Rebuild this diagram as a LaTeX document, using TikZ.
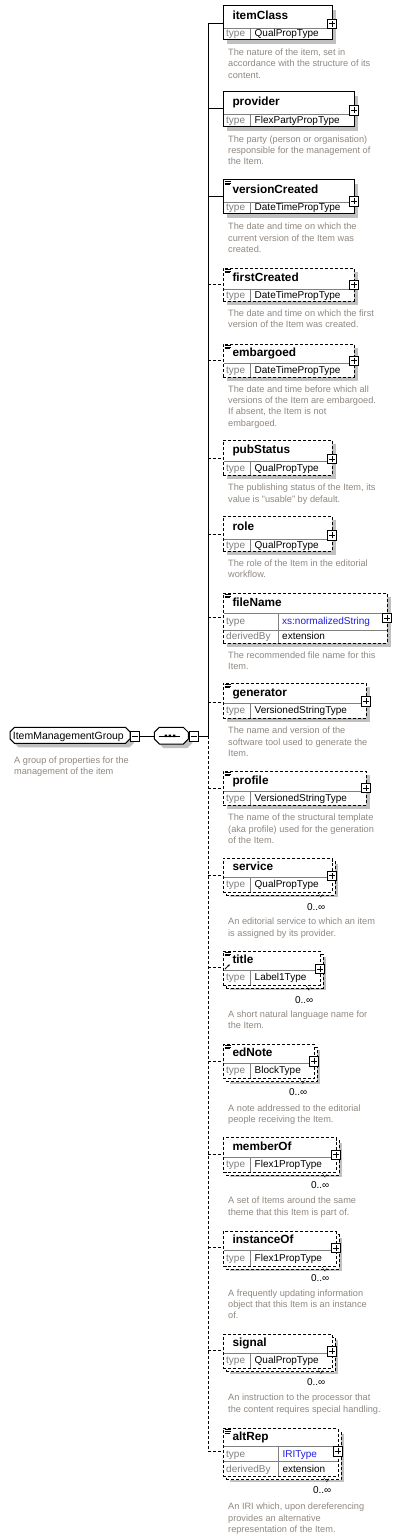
\documentclass[tikz,border=0pt]{standalone}
\usepackage{fontspec}
\setmainfont{Liberation Sans}
\usetikzlibrary{arrows.meta}
\definecolor{desccol}{RGB}{145,136,128}
\definecolor{shadowcol}{RGB}{192,192,192}
\definecolor{divcol}{RGB}{128,128,128}
\definecolor{labcol}{RGB}{128,128,128}
\definecolor{bluecol}{RGB}{30,30,230}
\tikzset{
  ebox/.style={draw, fill=white, line width=1pt, inner sep=0pt, outer sep=0pt, anchor=north west},
  eboxd/.style={ebox, dash pattern=on 3pt off 2pt},
  divline/.style={draw=divcol, line width=0.8pt},
  connline/.style={line width=1pt},
  connlined/.style={line width=1pt, dash pattern=on 3pt off 2pt},
  pmbox/.style={draw, fill=white, line width=0.8pt, minimum size=9.3pt, inner sep=0pt, outer sep=0pt},
  plusbox/.style={pmbox, path picture={\draw[line width=0.8pt] ([xshift=-3pt]path picture bounding box.center) -- ([xshift=3pt]path picture bounding box.center) ([yshift=-3pt]path picture bounding box.center) -- ([yshift=3pt]path picture bounding box.center);}},
  minusbox/.style={pmbox, path picture={\draw[line width=0.8pt] ([xshift=-3pt]path picture bounding box.center) -- ([xshift=3pt]path picture bounding box.center);}},
  ttl/.style={font=\fontsize{11.8}{14}\selectfont\bfseries, anchor=base west, inner sep=0pt},
  tlab/.style={font=\fontsize{10}{12}\selectfont, text=labcol, anchor=base west, inner sep=0pt},
  tval/.style={font=\fontsize{10}{12}\selectfont, anchor=base west, inner sep=0pt},
  dtext/.style={font=\fontsize{9.2}{11}\selectfont, text=desccol, anchor=base west, inner sep=0pt},
  mult/.style={font=\fontsize{10}{12}\selectfont, anchor=base east, inner sep=0pt},
  grptext/.style={font=\fontsize{10.5}{12}\selectfont, anchor=base west, inner sep=0pt},
}
% single element box: name top bottom right div conn plustop style colx
\newcommand{\elsingle}[9]{%
  \fill[shadowcol] (227,#2+4) rectangle (#4+4,#3+4);
  \node[#8, minimum width={(#4-223)*1pt}, minimum height={(#3-#2)*1pt}] (#1) at (223,#2) {};
  \draw[divline] (223.5,#5) -- (#4-0.5,#5);
  \draw[divline] (#9,#5) -- (#9,#3-0.5);
  \coordinate (#1-b) at (208,#6);
  \node[plusbox] (#1-p) at (#4,#7+4.65) {};
}
% multiple element box: name top bottom right div conn plustop colx
\newcommand{\elmulti}[8]{%
  \fill[shadowcol] (230,#2+6) rectangle (#4+6,#3+5);
  \node[eboxd, minimum width={(#4-223)*1pt}, minimum height={(#3-#2)*1pt}] (#1-bk) at (226,#2+3) {};
  \node[eboxd, minimum width={(#4-223)*1pt}, minimum height={(#3-#2)*1pt}] (#1) at (223,#2) {};
  \draw[divline] (223.5,#5) -- (#4-0.5,#5);
  \draw[divline] (#8,#5) -- (#8,#3-0.5);
  \draw[line width=0.6pt, dash pattern=on 1pt off 1pt] (#4-14,#3+1) -- (#4-11,#3+5) -- (#4-9,#3+2);
  \coordinate (#1-b) at (208,#6);
  \node[plusbox] (#1-p) at (#4,#7+4.65) {};
}
\newcommand{\eltext}[6]{%
  \node[ttl] (#1-t) at (232.3,#2) {#4};
  \node[tlab] (#1-tl) at (226,#3) {type};
  \node[tval] (#1-tv) at (#6+4,#3) {#5};
}
\newcommand{\docicon}[1]{%
  \draw[line width=0.6pt] (224.5,#1+1.3) -- (230.5,#1+1.3) (224.5,#1+3) -- (230.5,#1+3) (224.5,#1+4.7) -- (229.5,#1+4.7);
}
\newcommand{\desc}[4]{%
  \foreach \dline [count=\di from 0] in {#4} {\node[dtext] (#1-d\di) at (#2,{#3+11.3*\di}) {\dline};}
}
\newcommand{\chamfill}[6]{%
  \path[#1] (#2+#6,#3) -- (#4-#6,#3) -- (#4,#3+#6) -- (#4,#5-#6) -- (#4-#6,#5) -- (#2+#6,#5) -- (#2,#5-#6) -- (#2,#3+#6) -- cycle;
}
\begin{document}
\begin{tikzpicture}[x=1pt,y=-1pt]
\fill[white] (0,0) rectangle (401,1538);
\useasboundingbox (0,0) rectangle (401,1538);

% group and sequence
\chamfill{fill=shadowcol}{14}{731.3}{134}{747.3}{4.5}
\chamfill{draw,fill=white,line width=1pt}{10}{727.3}{130}{743.3}{4.5}
\node[grptext] (grp) at (12.7,739.5) {ItemManagementGroup};
\node[minusbox] (grp-m) at (134.7,736.3) {};
\chamfill{fill=shadowcol}{158.3}{731.3}{192.3}{748}{5}
\chamfill{draw,fill=white,line width=1pt}{154.3}{727.3}{188.3}{744}{5}
\node[minimum width=34pt, minimum height=16.7pt, inner sep=0pt, outer sep=0pt] (seq) at (171.3,736.3) {};
\draw[line width=1pt] (158.5,736) -- (179.8,736);
\fill (164.5,734.7) rectangle (167,737.2) (168.7,734.7) rectangle (171.2,737.2) (172.9,734.7) rectangle (175.4,737.2);
\node[minusbox] (seq-m) at (193.7,736.3) {};
\coordinate (busMid) at (208,736.3);
\draw[connline] (grp-m.east) -- (grp-m.east -| seq.west);
\draw[connline] (seq-m.east) -- (busMid);
\desc{grp}{14}{763}{{A group of properties for the},{management of the item}}

% elements
\elsingle{itemClass}{6}{40}{332}{28}{24}{19}{ebox}{250.5}
\elsingle{provider}{92}{127}{354}{114}{109}{105.7}{ebox}{250.5}
\elsingle{versionCreated}{180}{214}{354}{202}{197}{196.7}{ebox}{250.5}
\elsingle{firstCreated}{268}{301}{354}{289}{284}{280}{eboxd}{250.5}
\elsingle{embargoed}{344}{377}{354}{363}{360}{356}{eboxd}{250.5}
\elsingle{pubStatus}{440}{475}{332}{461}{458}{454.3}{eboxd}{250.5}
\elsingle{role}{516}{551}{332}{539}{534}{530.7}{eboxd}{250.5}
\elsingle{fileName}{593}{643}{387}{613}{617}{613.3}{eboxd}{278}
\draw[divline] (223.5,630) -- (386.5,630);
\elsingle{generator}{683}{718}{366}{703}{702}{696.7}{eboxd}{250.5}
\elsingle{profile}{771}{805}{366}{791}{788}{783.3}{eboxd}{250.5}
\elmulti{service}{858}{892}{332}{877}{875}{871}{250.5}
\elmulti{title}{951}{985}{320}{970.7}{967.7}{964.3}{250.5}
\elmulti{edNote}{1044}{1078.5}{314}{1063.3}{1061.7}{1056.7}{250.5}
\elmulti{memberOf}{1137.3}{1172}{336}{1157.3}{1154}{1150}{250.5}
\elmulti{instanceOf}{1231.7}{1266}{336}{1250}{1247.3}{1243.3}{250.5}
\elmulti{signal}{1334}{1368.5}{332}{1353.3}{1350.7}{1346.7}{250.5}
\elmulti{altRep}{1428.3}{1476.7}{338}{1446.7}{1451}{1446.7}{278.3}
\draw[divline] (223.5,1461.7) -- (337.5,1461.7);

% bus and connectors
\draw[connline] (itemClass-b) -- (busMid);
\draw[connlined] (busMid) -- (altRep-b);
\foreach \n in {itemClass,provider,versionCreated} \draw[connline] (\n-b) -- (\n-b -| \n.west);
\foreach \n in {firstCreated,embargoed,pubStatus,role,fileName,generator,profile,service,title,edNote,memberOf,instanceOf,signal,altRep} \draw[connlined] (\n-b) -- (\n-b -| \n.west);

% icons
\docicon{180}\docicon{268}\docicon{344}\docicon{593}\docicon{683}\docicon{771}\docicon{951}\docicon{1044}\docicon{1428.3}
\draw[line width=0.8pt, -{Stealth[length=2.5pt,width=2.5pt]}] (225,969) -- (229.8,964.4);

% texts
\eltext{itemClass}{20}{37}{itemClass}{QualPropType}{250.5}
\eltext{provider}{106}{123.5}{provider}{FlexPartyPropType}{250.5}
\eltext{versionCreated}{194}{211}{versionCreated}{DateTimePropType}{250.5}
\eltext{firstCreated}{281.5}{298}{firstCreated}{DateTimePropType}{250.5}
\eltext{embargoed}{356.5}{373}{embargoed}{DateTimePropType}{250.5}
\eltext{pubStatus}{453.5}{471}{pubStatus}{QualPropType}{250.5}
\eltext{role}{530.5}{548}{role}{QualPropType}{250.5}
\eltext{fileName}{606}{624.5}{fileName}{\textcolor{bluecol}{xs:normalizedString}}{278}
\node[tlab] (fileName-dl) at (226,639.5) {derivedBy};
\node[tval] (fileName-dv) at (282,639.5) {extension};
\eltext{generator}{696}{713.5}{generator}{VersionedStringType}{250.5}
\eltext{profile}{784}{801}{profile}{VersionedStringType}{250.5}
\eltext{service}{870.5}{887.5}{service}{QualPropType}{250.5}
\eltext{title}{963.9}{980.9}{title}{Label1Type}{250.5}
\eltext{edNote}{1056.7}{1073.9}{edNote}{BlockType}{250.5}
\eltext{memberOf}{1150.3}{1167.7}{memberOf}{Flex1PropType}{250.5}
\eltext{instanceOf}{1243.9}{1261}{instanceOf}{Flex1PropType}{250.5}
\eltext{signal}{1346.7}{1363.9}{signal}{QualPropType}{250.5}
\eltext{altRep}{1440.5}{1457.2}{altRep}{\textcolor{bluecol}{IRIType}}{278.3}
\node[tlab] (altRep-dl) at (226,1472.2) {derivedBy};
\node[tval] (altRep-dv) at (282.3,1472.2) {extension};

% multiplicities
\node[mult] (service-m) at (325.5,910) {0..∞};
\node[mult] (title-m) at (313.5,1003.3) {0..∞};
\node[mult] (edNote-m) at (307.5,1095) {0..∞};
\node[mult] (memberOf-m) at (329.5,1188.3) {0..∞};
\node[mult] (instanceOf-m) at (329.5,1281.6) {0..∞};
\node[mult] (signal-m) at (325.5,1385.6) {0..∞};
\node[mult] (altRep-m) at (331.5,1493.3) {0..∞};

% descriptions
\desc{itemClass}{228}{55.7}{{The nature of the item, set in},{accordance with the structure of its},{content.}}
\desc{provider}{228}{142.3}{{The party (person or organisation)},{responsible for the management of},{the Item.}}
\desc{versionCreated}{228}{229.7}{{The date and time on which the},{current version of the Item was},{created.}}
\desc{firstCreated}{228}{316.3}{{The date and time on which the first},{version of the Item was created.}}
\desc{embargoed}{228}{392.3}{{The date and time before which all},{versions of the Item are embargoed.},{If absent, the Item is not},{embargoed.}}
\desc{pubStatus}{228}{490.7}{{The publishing status of the Item, its},{value is "usable" by default.}}
\desc{role}{228}{566.3}{{The role of the Item in the editorial},{workflow.}}
\desc{fileName}{228}{658}{{The recommended file name for this},{Item.}}
\desc{generator}{228}{733.7}{{The name and version of the},{software tool used to generate the},{Item.}}
\desc{profile}{228}{820.7}{{The name of the structural template},{(aka profile) used for the generation},{of the Item.}}
\desc{service}{228}{924.7}{{An editorial service to which an item},{is assigned by its provider.}}
\desc{title}{228}{1017.3}{{A short natural language name for},{the Item.}}
\desc{edNote}{228}{1111.3}{{A note addressed to the editorial},{people receiving the Item.}}
\desc{memberOf}{228}{1203.7}{{A set of Items around the same},{theme that this Item is part of.}}
\desc{instanceOf}{228}{1296.3}{{A frequently updating information},{object that this Item is an instance},{of.}}
\desc{signal}{228}{1400.7}{{An instruction to the processor that},{the content requires special handling.}}
\desc{altRep}{228}{1509.7}{{An IRI which, upon dereferencing},{provides an alternative},{representation of the Item.}}
\end{tikzpicture}
\end{document}
